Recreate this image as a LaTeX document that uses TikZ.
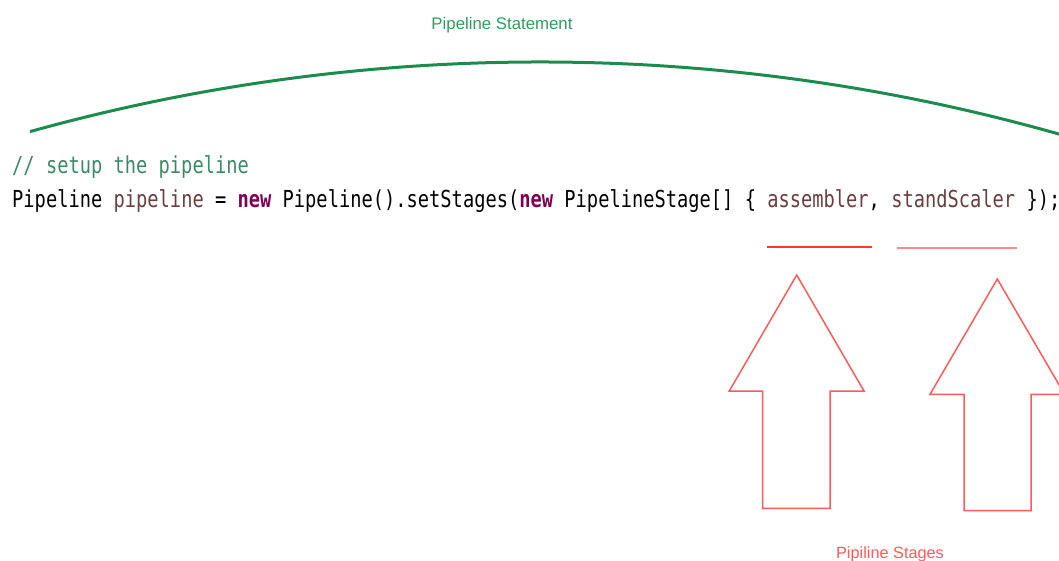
\documentclass[tikz,border=0pt]{standalone}
\usepackage{fontspec}
\setmainfont{Liberation Sans}
\newfontfamily\codefont[FakeStretch=0.8]{DejaVu Sans Mono}
\definecolor{stmtgreen}{HTML}{1C8C4E}
\definecolor{labelgreen}{HTML}{2E9E5E}
\definecolor{cmtgreen}{HTML}{3B8A66}
\definecolor{kwpurple}{HTML}{7F0055}
\definecolor{varbrown}{HTML}{6A3E3E}
\definecolor{stagered}{HTML}{FF5A5A}
\definecolor{markred}{HTML}{FF3A2A}
\definecolor{markpink}{HTML}{FF8A8A}
\tikzset{
  code/.style={inner sep=0pt, anchor=base west, font=\codefont\fontsize{23.4}{28}\selectfont},
  caption/.style={inner sep=0pt, anchor=base},
  stagearrow/.style={draw=stagered, line width=1.5pt, line join=miter},
}
\newcommand{\kw}[1]{\textcolor{kwpurple}{\bfseries #1}}
\newcommand{\var}[1]{\textcolor{varbrown}{#1}}
\begin{document}
\begin{tikzpicture}[x=1pt, y=-1pt]
  \useasboundingbox (0,0) rectangle (1059,560);
  \clip (0,0) rectangle (1059,560);

  % statement bracket and its caption
  \node[caption, text=labelgreen, font=\fontsize{16.8}{20}\selectfont] (stmt) at (502,29.3) {Pipeline Statement};
  \draw[stmtgreen, line width=3pt] (30,131.6) arc[start angle=-105.55, end angle=-73.5, radius=1903];

  % source code
  \node[code, text=cmtgreen] (comment) at (12,173) {// setup the pipeline};
  \node[code] (stmtline) at (12,207) {Pipeline \var{pipeline} = \kw{new} Pipeline().setStages(\kw{new} PipelineStage[] \textbraceleft{} \var{assembler}, \var{standScaler} \textbraceright{});};

  % stage markers under the array elements
  \coordinate (asmL) at (767,247);
  \coordinate (asmR) at (872,247);
  \coordinate (stdL) at (897,248);
  \coordinate (stdR) at (1017,248);
  \draw[markred, line width=1.5pt] (asmL) -- (asmR);
  \draw[markpink, line width=1.8pt] (stdL) -- (stdR);

  % block arrows pointing up at the stages
  \draw[stagearrow] (796.7,275) -- (864,391) -- (830,391) -- (830,508.3)
     -- (762.7,508.3) -- (762.7,391) -- (729.3,391) -- cycle;
  \draw[stagearrow] (997.3,279) -- (1064.6,394.3) -- (1031,394.3) -- (1031,510.7)
     -- (964,510.7) -- (964,394.3) -- (930,394.3) -- cycle;

  \node[caption, text=stagered, font=\fontsize{16.3}{20}\selectfont] (stages) at (890,558.3) {Pipiline Stages};
\end{tikzpicture}
\end{document}
